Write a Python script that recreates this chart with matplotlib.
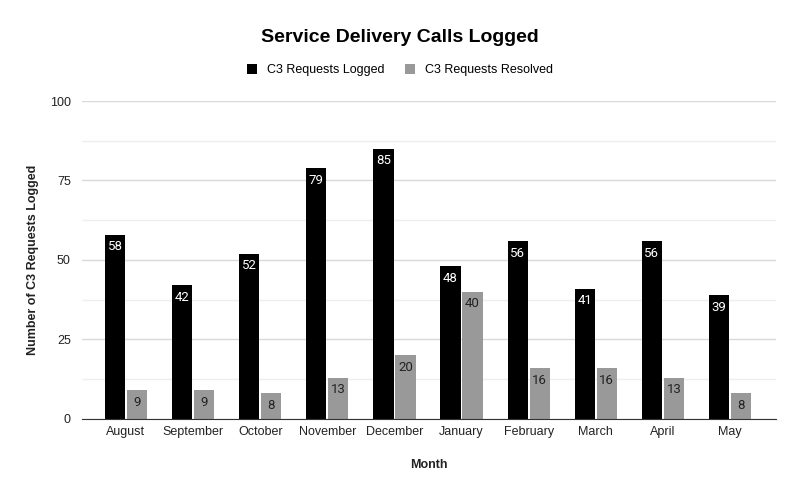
import matplotlib.pyplot as plt
import numpy as np

months = ['August', 'September', 'October', 'November', 'December',
          'January', 'February', 'March', 'April', 'May']
logged = [58, 42, 52, 79, 85, 48, 56, 41, 56, 39]
resolved = [9, 9, 8, 13, 20, 40, 16, 16, 13, 8]

plt.rcParams['font.family'] = ['Liberation Sans', 'DejaVu Sans']

fig = plt.figure(figsize=(8, 4.94), dpi=100)
ax = fig.add_axes([0.1025, 0.152, 0.8675, 0.6435])

x = np.arange(len(months))
w = 0.30
off = 0.164
b1 = ax.bar(x - off, logged, w, color='#000000', label='C3 Requests Logged', zorder=3)
b2 = ax.bar(x + off, resolved, w, color='#999999', label='C3 Requests Resolved', zorder=3)

# value labels inside the top of each bar
for rect, v in zip(b1, logged):
    ax.text(rect.get_x() + rect.get_width() / 2, v - 1.8, str(v), family='Roboto',
            ha='center', va='top', color='white', fontsize=9.5, zorder=4)
for rect, v in zip(b2, resolved):
    ax.text(rect.get_x() + rect.get_width() / 2, v - 1.8, str(v), family='Roboto',
            ha='center', va='top', color='#222222', fontsize=9.5, zorder=4)

ax.set_xlim(-0.656, 9.686)
ax.set_ylim(0, 100)
ax.set_yticks([0, 25, 50, 75, 100])
ax.set_yticks(np.arange(12.5, 100, 25), minor=True)
ax.grid(axis='y', which='major', color='#d9d9d9', linewidth=1, zorder=0)
ax.grid(axis='y', which='minor', color='#eeeeee', linewidth=1, zorder=0)
ax.set_xticks(x)
ax.set_xticklabels(months, fontsize=9, color='#222222')
ax.tick_params(axis='y', which='both', length=0, labelsize=9, labelcolor='#222222', pad=8)
ax.tick_params(axis='x', length=0, pad=5)

for side in ['top', 'right', 'left']:
    ax.spines[side].set_visible(False)
ax.spines['bottom'].set_color('#333333')
ax.spines['bottom'].set_zorder(5)

ax.set_xlabel('Month', fontsize=9, fontweight='bold', color='#222222')
ax.xaxis.set_label_coords(0.5, -0.125)
ax.set_ylabel('Number of C3 Requests Logged', fontsize=9, fontweight='bold', color='#222222')
ax.yaxis.set_label_coords(-0.062, 0.5)

fig.text(0.5, 0.925, 'Service Delivery Calls Logged', ha='center', va='center',
         fontsize=14, fontweight='bold', color='#000000')
fig.legend(handles=[b1, b2], loc='center', bbox_to_anchor=(0.5, 0.858), ncol=2,
           frameon=False, fontsize=9, handlelength=0.8, handleheight=0.8,
           columnspacing=1.6, handletextpad=0.8)

fig.savefig('out.png', dpi=100, facecolor='white')
